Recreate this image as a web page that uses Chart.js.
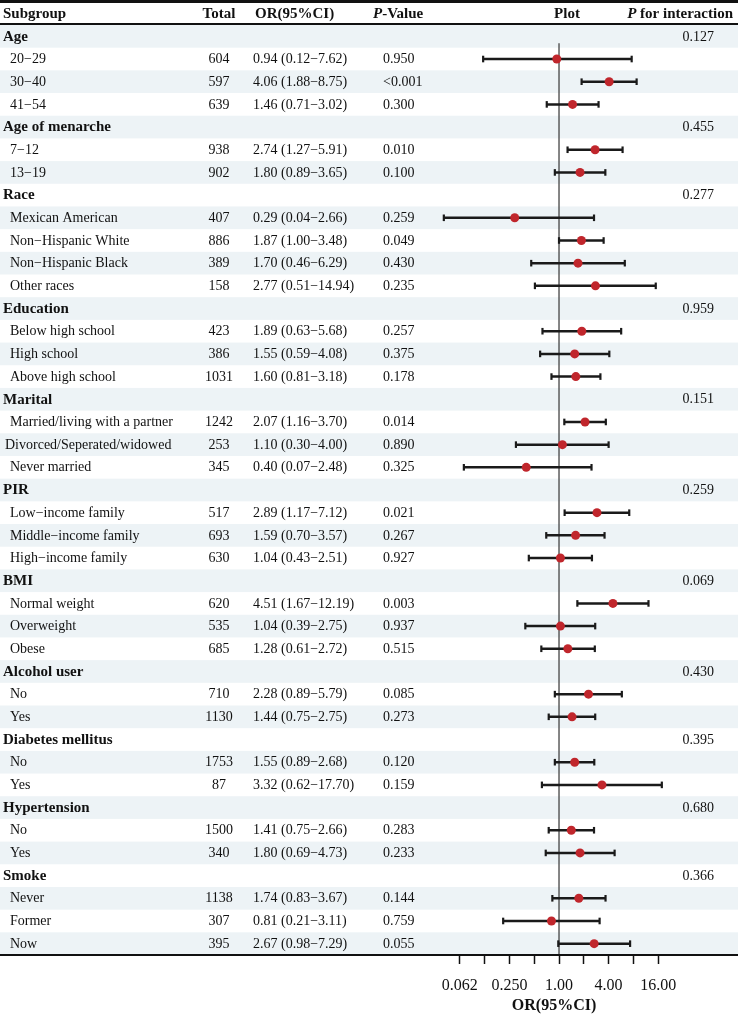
<!DOCTYPE html>
<html><head><meta charset="utf-8">
<script src="https://cdn.jsdelivr.net/npm/chart.js@4/dist/chart.umd.min.js"></script>
<style>html,body{margin:0;padding:0;background:#fff}#wrap{width:738px;height:1015px;position:relative}canvas{display:block}</style>
</head><body><div id="wrap"><canvas id="c" width="738" height="1015"></canvas></div>
<script>
const subgroups = ['Age','20\u221229','30\u221240','41\u221254','Age of menarche','7\u221212','13\u221219','Race','Mexican American','Non\u2212Hispanic White','Non\u2212Hispanic Black','Other races','Education','Below high school','High school','Above high school','Marital','Married/living with a partner','Divorced/Seperated/widowed','Never married','PIR','Low\u2212income family','Middle\u2212income family','High\u2212income family','BMI','Normal weight','Overweight','Obese','Alcohol user','No','Yes','Diabetes mellitus','No','Yes','Hypertension','No','Yes','Smoke','Never','Former','Now'];
const totals = [null,604,597,639,null,938,902,null,407,886,389,158,null,423,386,1031,null,1242,253,345,null,517,693,630,null,620,535,685,null,710,1130,null,1753,87,null,1500,340,null,1138,307,395];
const orValues = [null,0.94,4.06,1.46,null,2.74,1.80,null,0.29,1.87,1.70,2.77,null,1.89,1.55,1.60,null,2.07,1.10,0.40,null,2.89,1.59,1.04,null,4.51,1.04,1.28,null,2.28,1.44,null,1.55,3.32,null,1.41,1.80,null,1.74,0.81,2.67];
const lowerCI = [null,0.12,1.88,0.71,null,1.27,0.89,null,0.04,1.00,0.46,0.51,null,0.63,0.59,0.81,null,1.16,0.30,0.07,null,1.17,0.70,0.43,null,1.67,0.39,0.61,null,0.89,0.75,null,0.89,0.62,null,0.75,0.69,null,0.83,0.21,0.98];
const upperCI = [null,7.62,8.75,3.02,null,5.91,3.65,null,2.66,3.48,6.29,14.94,null,5.68,4.08,3.18,null,3.70,4.00,2.48,null,7.12,3.57,2.51,null,12.19,2.75,2.72,null,5.79,2.75,null,2.68,17.70,null,2.66,4.73,null,3.67,3.11,7.29];
const pValues = ['','0.950','<0.001','0.300','','0.010','0.100','','0.259','0.049','0.430','0.235','','0.257','0.375','0.178','','0.014','0.890','0.325','','0.021','0.267','0.927','','0.003','0.937','0.515','','0.085','0.273','','0.120','0.159','','0.283','0.233','','0.144','0.759','0.055'];
const pInteraction = ['0.127','','','','0.455','','','0.277','','','','','0.959','','','','0.151','','','','0.259','','','','0.069','','','','0.430','','','0.395','','','0.680','','','0.366','','',''];
const tickValues = [0.0625,0.125,0.25,0.5,1,2,4,8,16];
const tickLabels = ['0.062','','0.250','','1.00','','4.00','','16.00'];

const FONT = '"Liberation Serif","Times New Roman",serif';
const STRIPE = '#EDF3F6';
const INK = '#111111';

const ciLine = [], caps = [], points = [];
subgroups.forEach((s, i) => {
  if (orValues[i] == null) return;
  ciLine.push({x: lowerCI[i], y: i}, {x: upperCI[i], y: i}, {x: null, y: null});
  caps.push({x: lowerCI[i], y: i}, {x: upperCI[i], y: i});
  points.push({x: orValues[i], y: i});
});

const fmt = v => v.toFixed(2);

const tablePlugin = {
  id: 'table',
  beforeDraw(chart) {
    const {ctx, width, height} = chart;
    const {x, y} = chart.scales;
    const rowH = Math.abs(y.getPixelForValue(1) - y.getPixelForValue(0));
    ctx.save();
    ctx.fillStyle = '#fff';
    ctx.fillRect(0, 0, width, height);
    subgroups.forEach((s, i) => {
      if (i % 2 === 0) {
        ctx.fillStyle = STRIPE;
        ctx.fillRect(0, y.getPixelForValue(i) - rowH / 2, width, rowH);
      }
    });
    const x1 = x.getPixelForValue(1);
    ctx.strokeStyle = '#444';
    ctx.lineWidth = 1.3;
    ctx.beginPath();
    ctx.moveTo(x1, y.getPixelForValue(0.3));
    ctx.lineTo(x1, chart.chartArea.bottom);
    ctx.stroke();
    ctx.restore();
  },
  afterDraw(chart) {
    const {ctx, width} = chart;
    const {y} = chart.scales;
    ctx.save();
    ctx.fillStyle = INK;
    ctx.textBaseline = 'middle';
    const hy = 14;
    ctx.font = 'bold 15px ' + FONT;
    ctx.textAlign = 'left';
    ctx.fillText('Subgroup', 3, hy);
    ctx.textAlign = 'center';
    ctx.fillText('Total', 219, hy);
    ctx.textAlign = 'left';
    ctx.fillText('OR(95%CI)', 255, hy);
    ctx.font = 'italic bold 15px ' + FONT;
    ctx.fillText('P', 373, hy);
    let w = ctx.measureText('P').width;
    ctx.font = 'bold 15px ' + FONT;
    ctx.fillText('-Value', 373 + w, hy);
    ctx.textAlign = 'center';
    ctx.fillText('Plot', 567, hy);
    ctx.textAlign = 'left';
    const rest = ' for interaction';
    const wr = ctx.measureText(rest).width;
    ctx.font = 'italic bold 15px ' + FONT;
    const wp = ctx.measureText('P').width;
    const startX = 733 - wr - wp;
    ctx.fillText('P', startX, hy);
    ctx.font = 'bold 15px ' + FONT;
    ctx.fillText(rest, startX + wp, hy);

    subgroups.forEach((s, i) => {
      const yc = y.getPixelForValue(i) + 0.5;
      if (totals[i] == null) {
        ctx.font = 'bold 15px ' + FONT;
        ctx.textAlign = 'left';
        ctx.fillText(s, 3, yc);
        ctx.font = '14px ' + FONT;
        ctx.textAlign = 'right';
        ctx.fillText(pInteraction[i], 714, yc);
      } else {
        ctx.font = '14px ' + FONT;
        ctx.textAlign = 'left';
        const lw = ctx.measureText(s).width;
        ctx.fillText(s, lw > 165 ? 5 : 10, yc);
        ctx.textAlign = 'center';
        ctx.fillText(String(totals[i]), 219, yc);
        ctx.textAlign = 'left';
        ctx.fillText(fmt(orValues[i]) + ' (' + fmt(lowerCI[i]) + '\u2212' + fmt(upperCI[i]) + ')', 253, yc);
        ctx.fillText(pValues[i], 383, yc);
      }
    });
    ctx.strokeStyle = INK;
    ctx.lineWidth = 3;
    ctx.beginPath(); ctx.moveTo(0, 1.5); ctx.lineTo(width, 1.5); ctx.stroke();
    ctx.lineWidth = 2;
    ctx.beginPath(); ctx.moveTo(0, 24); ctx.lineTo(width, 24); ctx.stroke();
    const b = chart.chartArea.bottom;
    ctx.beginPath(); ctx.moveTo(0, b); ctx.lineTo(width, b); ctx.stroke();
    ctx.restore();
  }
};

new Chart(document.getElementById('c'), {
  type: 'scatter',
  data: {
    datasets: [
      {data: ciLine, showLine: true, spanGaps: false, borderColor: '#1a1a1a', borderWidth: 2.5, pointRadius: 0, pointHoverRadius: 0, order: 3},
      {data: caps, showLine: false, pointStyle: 'line', rotation: 90, pointRadius: 3.3, borderColor: '#1a1a1a', borderWidth: 2.2, order: 2},
      {data: points, showLine: false, pointStyle: 'circle', pointRadius: 4.5, backgroundColor: '#C0262C', borderWidth: 0, order: 1}
    ]
  },
  options: {
    responsive: false,
    animation: false,
    devicePixelRatio: 1,
    layout: {padding: {top: 25, left: 435, right: 64.9, bottom: 0}},
    plugins: {legend: {display: false}, tooltip: {enabled: false}},
    events: [],
    scales: {
      y: {type: 'linear', min: -0.5, max: 40.5, reverse: true, display: false},
      x: {
        type: 'logarithmic', min: Math.pow(2, -5), max: Math.pow(2, 4.6), bounds: 'data',
        afterBuildTicks: s => { s.ticks = tickValues.map(v => ({value: v})); },
        afterFit: s => { s.height = 60; },
        grid: {display: true, drawOnChartArea: false, drawTicks: true, tickLength: 9, tickColor: INK, tickWidth: 1.5},
        border: {display: false},
        ticks: {autoSkip: false, maxRotation: 0, minRotation: 0, padding: 12, color: INK, font: {family: FONT, size: 16}, callback: (v, i) => tickLabels[i]},
        title: {display: true, text: 'OR(95%CI)', color: INK, font: {family: FONT, size: 16, weight: 'bold'}, padding: {top: 0, bottom: 0}}
      }
    }
  },
  plugins: [tablePlugin]
});
</script></body></html>
